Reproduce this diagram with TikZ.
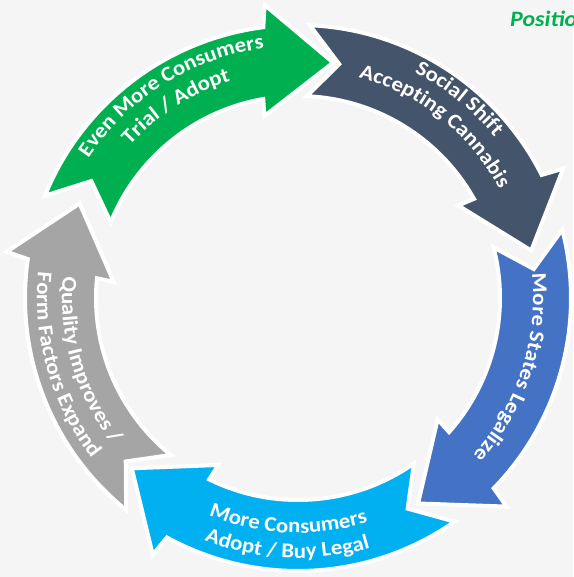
\documentclass[tikz,border=0pt]{standalone}
\usepackage{fontspec}
\setmainfont{Carlito}
\newfontfamily\widefam[FakeStretch=1.09]{Carlito}
\usetikzlibrary{decorations.text}
\definecolor{cgreen}{HTML}{00B050}
\definecolor{cnavy}{HTML}{44546A}
\definecolor{cblue}{HTML}{4472C4}
\definecolor{ccyan}{HTML}{00B0F0}
\definecolor{cgray}{HTML}{A5A5A5}
\definecolor{bgcol}{HTML}{F5F5F5}
\newcommand{\lblfont}{\widefam\fontsize{21pt}{21pt}\selectfont\bfseries}
% #1 colour, #2 tail angle, #3 head-base angle, #4 tip angle
\newcommand{\ringarrow}[4]{%
  \path[arrowshape, fill=#1] (#2:273)
    arc[start angle=#2, end angle={#3-1.2}, radius=273]
    -- ({#3-2}:295) -- (#4:238) -- ({#3+2}:185) -- ({#3+1.4}:202)
    arc[start angle={#3+1.4}, end angle=#2, radius=202]
    -- ({#2-7.5}:237.5) -- cycle;}
% clockwise text (letter tops outward): #1 radius, #2 centre angle, #3 text
\newcommand{\cwtext}[3]{%
  \path[decorate, decoration={text along path, text align=center,
    text color=white, text={|\lblfont|#3}}]
    ({#2+45}:#1) arc[start angle={#2+45}, end angle={#2-45}, radius=#1];}
% counter-clockwise text (letter tops inward)
\newcommand{\ccwtext}[3]{%
  \path[decorate, decoration={text along path, text align=center,
    text color=white, text={|\lblfont|#3}}]
    ({#2-45}:#1) arc[start angle={#2-45}, end angle={#2+45}, radius=#1];}
\tikzset{arrowshape/.style={draw=white, line width=4pt, line join=miter}}
\begin{document}
\begin{tikzpicture}[x=1pt,y=1pt]
\useasboundingbox (0,0) rectangle (573,577);
\fill[bgcol] (0,0) rectangle (573,577);
\clip (0,0) rectangle (573,577);
\begin{scope}[shift={(298,279)}]
  \ringarrow{cgreen}{158}{98.5}{81.5}
  \ringarrow{cnavy}{87.5}{28}{11.5}
  \ringarrow{cblue}{14.5}{-43}{-59.7}
  \ringarrow{ccyan}{-55}{-117.5}{-134.3}
  \ringarrow{cgray}{231}{173}{156.6}
  % texts
  \cwtext{252}{122}{Even More Consumers}
  \cwtext{227}{122.5}{Trial / Adopt}
  \cwtext{254}{51}{Social Shift}
  \cwtext{229}{51.5}{Accepting Cannabis}
  \cwtext{235}{-18}{More States Legalize}
  \ccwtext{235}{-92.5}{More Consumers}
  \ccwtext{260}{-92.5}{Adopt / Buy Legal}
  \ccwtext{236}{196.5}{Quality Improves /}
  \ccwtext{261}{196}{Form Factors Expand}
\end{scope}
\node[anchor=base west, inner sep=0pt, text=cgreen, font=\widefam\fontsize{22pt}{22pt}\selectfont\bfseries\itshape] (title) at (510,550) {Positio};
\end{tikzpicture}
\end{document}
